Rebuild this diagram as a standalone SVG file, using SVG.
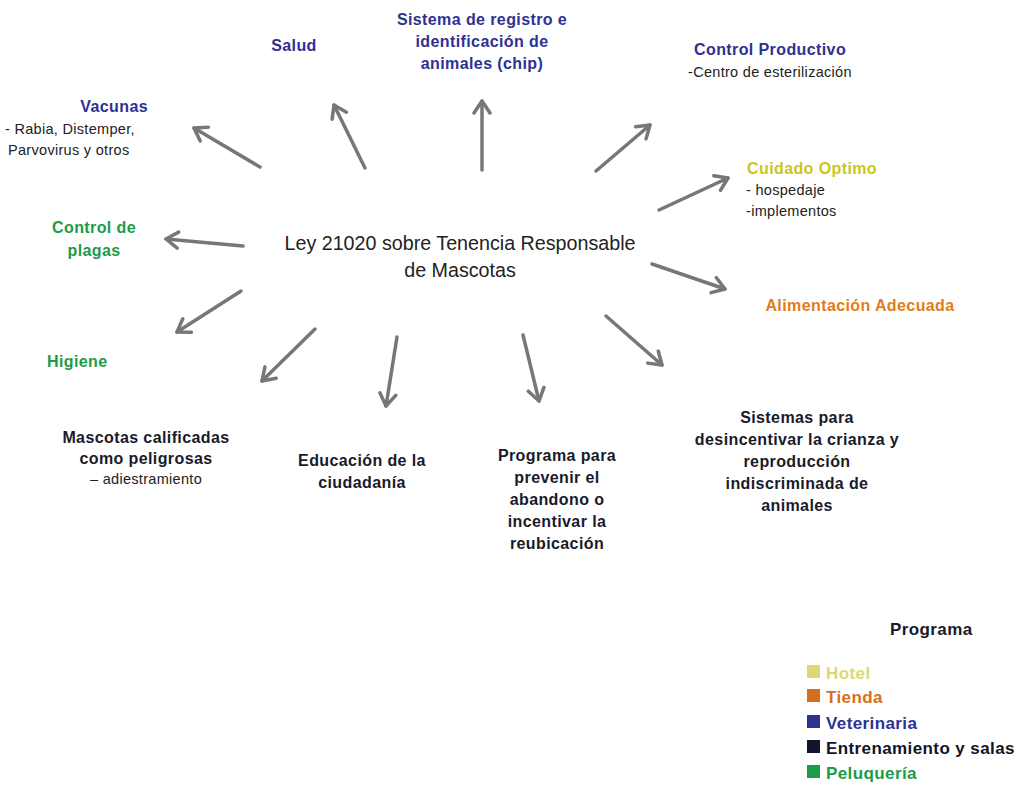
<svg xmlns="http://www.w3.org/2000/svg" width="1029" height="790" viewBox="0 0 1029 790">
<defs>
<marker id="ah" viewBox="0 0 20 20" refX="16" refY="10" markerWidth="20" markerHeight="20" markerUnits="userSpaceOnUse" orient="auto">
<path d="M4,2 L16,10 L4,18" fill="none" stroke="#777" stroke-width="3.5" stroke-linecap="round" stroke-linejoin="round"/>
</marker>
<style>
text{font-family:"Liberation Sans",Arial,sans-serif}
.b{font-weight:bold;font-size:16px;letter-spacing:0.4px}
.r{font-size:14.5px;fill:#222;letter-spacing:0.3px}
.lg{font-weight:bold;font-size:17px;letter-spacing:0.4px}
.blue{fill:#2e3192}
.green{fill:#1a9c4a}
.dark{fill:#1a1a2a}
.yellow{fill:#c9c71a}
.orange{fill:#e07d1a}
.c{text-anchor:middle}
.con line{stroke:#777;stroke-width:3.5;stroke-linecap:round;marker-end:url(#ah)}
</style>
</defs>
<rect width="1029" height="790" fill="#fff"/>
<g id="connectors" class="con">
<line x1="260" y1="167" x2="194" y2="128"/>
<line x1="365" y1="168" x2="334" y2="105"/>
<line x1="482" y1="170" x2="482" y2="101"/>
<line x1="596" y1="171" x2="650" y2="125"/>
<line x1="659" y1="210" x2="728" y2="178"/>
<line x1="652" y1="264" x2="725" y2="289"/>
<line x1="606" y1="316" x2="662" y2="365"/>
<line x1="523" y1="335" x2="539" y2="401"/>
<line x1="397" y1="337" x2="386" y2="406"/>
<line x1="315" y1="329" x2="262" y2="381"/>
<line x1="241" y1="291" x2="177" y2="332"/>
<line x1="243" y1="246" x2="166" y2="239"/>
</g>
<g id="center">
<text x="460" y="250" class="c" font-size="19.7" fill="#222">Ley 21020 sobre Tenencia Responsable</text>
<text x="460" y="277" class="c" font-size="19.7" fill="#222">de Mascotas</text>
</g>
<g id="salud"><text x="294" y="51" class="b blue c">Salud</text></g>
<g id="chip">
<text x="482" y="25" class="b blue c">Sistema de registro e</text>
<text x="482" y="47" class="b blue c">identificación de</text>
<text x="482" y="69" class="b blue c">animales (chip)</text>
</g>
<g id="control-productivo">
<text x="694" y="55" class="b blue">Control Productivo</text>
<text x="688" y="77" class="r">-Centro de esterilización</text>
</g>
<g id="vacunas">
<text x="148" y="112" class="b blue" text-anchor="end">Vacunas</text>
<text x="5" y="134" class="r">- Rabia, Distemper,</text>
<text x="8" y="155" class="r">Parvovirus y otros</text>
</g>
<g id="control-plagas">
<text x="94" y="233" class="b green c">Control de</text>
<text x="94" y="256" class="b green c">plagas</text>
</g>
<g id="cuidado">
<text x="747" y="174" class="b yellow">Cuidado Optimo</text>
<text x="746" y="195" class="r">- hospedaje</text>
<text x="746" y="216" class="r">-implementos</text>
</g>
<g id="alimentacion"><text x="860" y="311" class="b orange c">Alimentación Adecuada</text></g>
<g id="higiene"><text x="47" y="367" class="b green">Higiene</text></g>
<g id="mascotas">
<text x="146" y="443" class="b dark c">Mascotas calificadas</text>
<text x="146" y="464" class="b dark c">como peligrosas</text>
<text x="146" y="484" class="r c">– adiestramiento</text>
</g>
<g id="educacion">
<text x="362" y="466" class="b dark c">Educación de la</text>
<text x="362" y="488" class="b dark c">ciudadanía</text>
</g>
<g id="programa">
<text x="557" y="461" class="b dark c">Programa para</text>
<text x="557" y="483" class="b dark c">prevenir el</text>
<text x="557" y="505" class="b dark c">abandono o</text>
<text x="557" y="527" class="b dark c">incentivar la</text>
<text x="557" y="549" class="b dark c">reubicación</text>
</g>
<g id="sistemas">
<text x="797" y="423" class="b dark c">Sistemas para</text>
<text x="797" y="445" class="b dark c">desincentivar la crianza y</text>
<text x="797" y="467" class="b dark c">reproducción</text>
<text x="797" y="489" class="b dark c">indiscriminada de</text>
<text x="797" y="511" class="b dark c">animales</text>
</g>
<g id="legend">
<text x="890" y="635" class="lg dark">Programa</text>
<rect x="807" y="665" width="13" height="13" fill="#dcd873"/>
<text x="826" y="679" class="lg" fill="#dcd873">Hotel</text>
<rect x="807" y="689" width="13" height="13" fill="#d4701c"/>
<text x="826" y="703" class="lg" fill="#d4701c">Tienda</text>
<rect x="807" y="715" width="13" height="13" fill="#2e3192"/>
<text x="826" y="729" class="lg blue">Veterinaria</text>
<rect x="807" y="740" width="13" height="13" fill="#12142a"/>
<text x="826" y="754" class="lg" fill="#12142a">Entrenamiento y salas</text>
<rect x="807" y="765" width="13" height="13" fill="#1a9c4a"/>
<text x="826" y="779" class="lg green">Peluquería</text>
</g>
</svg>
